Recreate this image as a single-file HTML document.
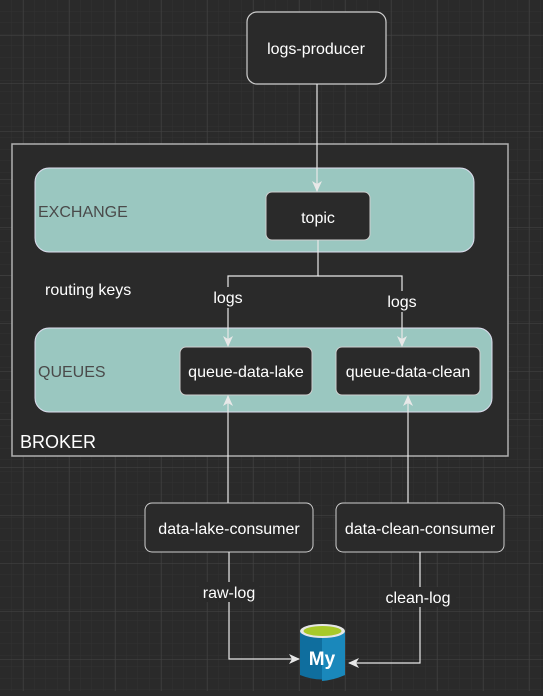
<!DOCTYPE html>
<html><head><style>
html,body{margin:0;padding:0;}
body{width:543px;height:691px;overflow:hidden;background:#2a2a2a;}
</style></head><body>
<svg width="543" height="691" xmlns="http://www.w3.org/2000/svg" font-family="Liberation Sans, Arial, sans-serif">
<defs>
<pattern id="minor" width="11.5" height="11.5" patternUnits="userSpaceOnUse" x="0" y="0">
<path d="M11.5 0V11.5M0 11.5H11.5" stroke="#323232" stroke-width="1" fill="none"/>
</pattern>
<pattern id="major" width="46" height="48" patternUnits="userSpaceOnUse" x="23" y="35">
<path d="M0 0V48M0 0H46" stroke="#454545" stroke-width="1" fill="none"/>
</pattern>
<marker id="ar" markerWidth="12" markerHeight="12" refX="10" refY="6" orient="auto" markerUnits="userSpaceOnUse">
<path d="M0 1L11 6L0 11L3 6Z" fill="#e8e8e8"/>
</marker>
</defs>
<rect width="543" height="691" fill="#2a2a2a"/>
<rect width="543" height="691" fill="url(#minor)"/>
<rect width="543" height="691" fill="url(#major)"/>

<!-- broker -->
<rect x="12" y="144" width="496" height="312" fill="#2a2a2a" stroke="#b0b0b0" stroke-width="1.5"/>
<text x="20" y="448" font-size="18" fill="#ffffff">BROKER</text>

<!-- exchange -->
<rect x="35" y="168" width="439" height="84" rx="14" fill="#9ac7c0" stroke="#dde" stroke-width="1"/>
<text x="38" y="217" font-size="16" fill="#4a4a4a">EXCHANGE</text>

<!-- producer -->
<rect x="247" y="12" width="139" height="72" rx="10" fill="#2a2a2a" stroke="#cfcfcf" stroke-width="1.2"/>
<text x="316" y="54" font-size="16" fill="#fff" text-anchor="middle">logs-producer</text>

<!-- topic -->
<rect x="266" y="192" width="104" height="48" rx="6" fill="#2a2a2a" stroke="#cfcfcf" stroke-width="1"/>
<text x="318" y="223" font-size="16" fill="#fff" text-anchor="middle">topic</text>
<line x1="317" y1="84" x2="317" y2="191" stroke="#e8e8e8" stroke-width="1.2" marker-end="url(#ar)"/>

<text x="45" y="295" font-size="16" fill="#fff">routing keys</text>

<!-- queues -->
<rect x="35" y="328" width="457" height="84" rx="14" fill="#9ac7c0" stroke="#dde" stroke-width="1"/>
<text x="38" y="377" font-size="16" fill="#4a4a4a">QUEUES</text>
<rect x="180" y="347" width="132" height="48" rx="6" fill="#2a2a2a" stroke="#cfcfcf" stroke-width="1"/>
<text x="246" y="377" font-size="16" fill="#fff" text-anchor="middle">queue-data-lake</text>
<rect x="336" y="347" width="144" height="48" rx="6" fill="#2a2a2a" stroke="#cfcfcf" stroke-width="1"/>
<text x="408" y="377" font-size="16" fill="#fff" text-anchor="middle">queue-data-clean</text>

<!-- routing connectors -->
<path d="M318 240V276H228V346" fill="none" stroke="#e8e8e8" stroke-width="1.2" marker-end="url(#ar)"/>
<path d="M318 276H402V346" fill="none" stroke="#e8e8e8" stroke-width="1.2" marker-end="url(#ar)"/>
<rect x="211" y="287" width="34" height="21" fill="#2a2a2a"/>
<text x="228" y="303" font-size="16" fill="#fff" text-anchor="middle">logs</text>
<rect x="385" y="291" width="34" height="21" fill="#2a2a2a"/>
<text x="402" y="307" font-size="16" fill="#fff" text-anchor="middle">logs</text>

<!-- consumers -->
<line x1="228" y1="503" x2="228" y2="396" stroke="#e8e8e8" stroke-width="1.2" marker-end="url(#ar)"/>
<line x1="408" y1="503" x2="408" y2="396" stroke="#e8e8e8" stroke-width="1.2" marker-end="url(#ar)"/>
<rect x="145" y="503" width="168" height="49" rx="7" fill="#2a2a2a" stroke="#cfcfcf" stroke-width="1"/>
<text x="229" y="534" font-size="16" fill="#fff" text-anchor="middle">data-lake-consumer</text>
<rect x="336" y="503" width="168" height="49" rx="7" fill="#2a2a2a" stroke="#cfcfcf" stroke-width="1"/>
<text x="420" y="534" font-size="16" fill="#fff" text-anchor="middle">data-clean-consumer</text>

<path d="M229 552V659H299" fill="none" stroke="#e8e8e8" stroke-width="1.2" marker-end="url(#ar)"/>
<path d="M420 552V663H349" fill="none" stroke="#e8e8e8" stroke-width="1.2" marker-end="url(#ar)"/>
<rect x="199" y="582" width="60" height="20" fill="#2a2a2a"/>
<text x="229" y="598" font-size="16" fill="#fff" text-anchor="middle">raw-log</text>
<rect x="382" y="587" width="74" height="20" fill="#2a2a2a"/>
<text x="418" y="603" font-size="16" fill="#fff" text-anchor="middle">clean-log</text>

<!-- mysql icon -->
<path d="M300 631V675Q322 684 345 675V631Z" fill="#0f6e9e"/>
<path d="M322 631V681Q334 680 345 675V631Z" fill="#1a88bb"/>
<ellipse cx="322.5" cy="631" rx="22.5" ry="7" fill="#e6e6e6"/>
<ellipse cx="322.5" cy="631" rx="19" ry="5" fill="#a8c92a"/>
<text x="322" y="665" font-size="19" font-weight="bold" fill="#fff" text-anchor="middle">My</text>
</svg>
</body></html>
